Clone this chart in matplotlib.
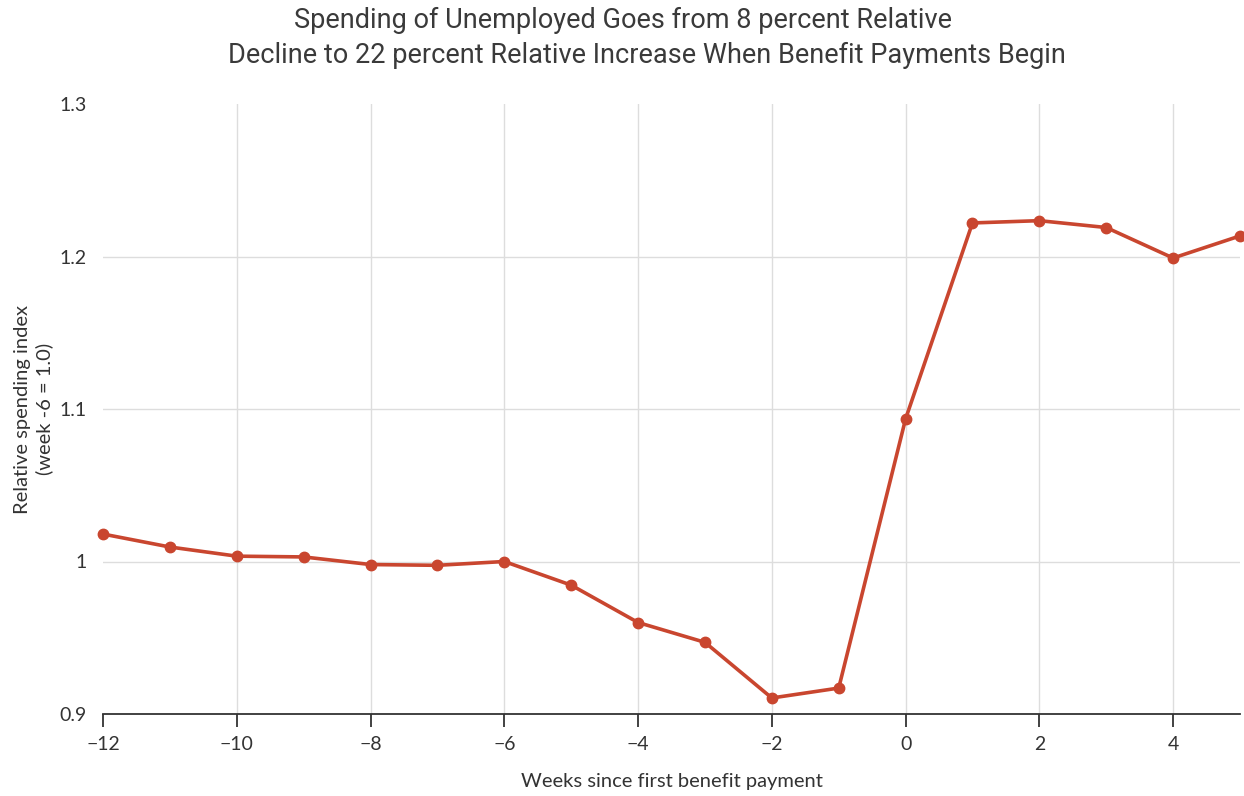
import matplotlib
matplotlib.use("Agg")
import matplotlib.pyplot as plt

weeks = [-12, -11, -10, -9, -8, -7, -6, -5, -4, -3, -2, -1, 0, 1, 2, 3, 4, 5]
spending_index = [1.018, 1.0095, 1.0035, 1.003, 0.998, 0.9975, 1.000, 0.9845,
                  0.960, 0.947, 0.9105, 0.917, 1.0935, 1.222, 1.2235, 1.219,
                  1.199, 1.2135]
x_ticks = [-12, -10, -8, -6, -4, -2, 0, 2, 4]
y_ticks = [0.9, 1.0, 1.1, 1.2, 1.3]
y_tick_labels = ["0.9", "1", "1.1", "1.2", "1.3"]

RED = "#c9462f"
INK = "#333333"
GRID = "#dddddd"

plt.rcParams["font.family"] = ["Lato", "DejaVu Sans"]

fig = plt.figure(figsize=(12.44, 7.96), dpi=100)
ax = fig.add_axes([103 / 1244, 1 - 714 / 796, 1137 / 1244, 610 / 796])

ax.plot(weeks, spending_index, color=RED, linewidth=2.6, marker="o",
        markersize=7.5, zorder=3, clip_on=False)

ax.set_xlim(-12, 5)
ax.set_ylim(0.9, 1.3)
ax.set_xticks(x_ticks)
ax.set_xticklabels([f"\u2212{abs(t)}" if t < 0 else str(t) for t in x_ticks])
ax.set_yticks(y_ticks)
ax.set_yticklabels(y_tick_labels)

for s in ("left", "right", "top"):
    ax.spines[s].set_visible(False)
ax.spines["bottom"].set_color(INK)
ax.spines["bottom"].set_linewidth(1.3)

ax.tick_params(axis="x", length=9, width=1.3, color=INK, labelsize=14,
               labelcolor=INK, pad=7)
ax.tick_params(axis="y", length=0, labelsize=14, labelcolor=INK, pad=12)

# gridlines: vertical at labelled weeks, horizontal inside the range only
for t in x_ticks[1:]:
    ax.axvline(t, color=GRID, linewidth=1, zorder=1)
for v in (1.0, 1.1, 1.2):
    ax.axhline(v, color=GRID, linewidth=1, zorder=1)

ax.set_xlabel("Weeks since first benefit payment", fontsize=14.5,
              color=INK, labelpad=14)
ax.set_ylabel("Relative spending index\n(week -6 = 1.0)", fontsize=14.5,
              color=INK, labelpad=4, linespacing=1.3)

title_kw = dict(ha="center", va="center", fontsize=19.5, color="#3a3a3a",
                family=["Roboto", "DejaVu Sans"])
fig.text(623 / 1244, 1 - 20 / 796,
         "Spending of Unemployed Goes from 8 percent Relative", **title_kw)
fig.text(647 / 1244, 1 - 55 / 796,
         "Decline to 22 percent Relative Increase When Benefit Payments Begin",
         **title_kw)

fig.savefig("out.png", dpi=100)
